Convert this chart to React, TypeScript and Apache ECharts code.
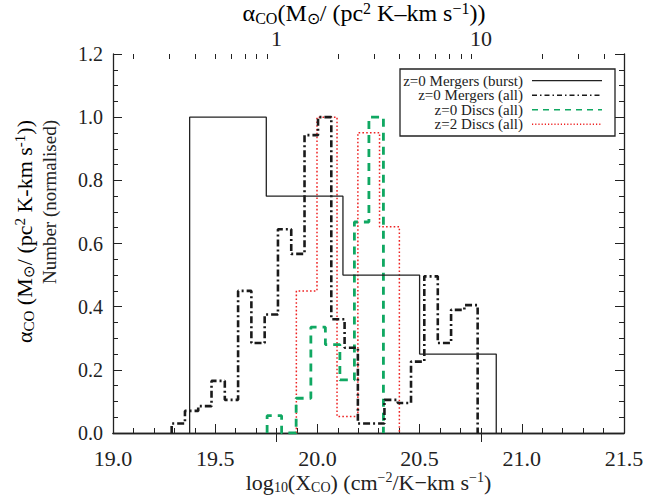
import React, { useEffect, useRef } from "react";
import * as echarts from "echarts";

// ---- data ----
const seriesNames = [
  "z=0 Mergers (burst)",
  "z=0 Mergers (all)",
  "z=0 Discs (all)",
  "z=2 Discs (all)",
];

const burstEdges = [19.375, 19.75, 20.125, 20.5, 20.875];
const burstValues = [1.0, 0.75, 0.5, 0.25];

const mergersAllEdges = [
  19.287, 19.352, 19.417, 19.482, 19.547, 19.612, 19.677, 19.742, 19.807,
  19.872, 19.937, 20.003, 20.068, 20.133, 20.198, 20.263, 20.328, 20.393,
  20.458, 20.523, 20.589, 20.654, 20.719, 20.784,
];
const mergersAllValues = [
  0.03, 0.07, 0.085, 0.165, 0.105, 0.45, 0.285, 0.375, 0.645, 0.567, 0.943,
  1.0, 0.36, 0.27, 0.03, 0.03, 0.105, 0.095, 0.226, 0.496, 0.285, 0.39, 0.405,
];

const discsZ0Edges = [19.754, 19.825, 19.896, 19.968, 20.039, 20.11, 20.181, 20.252, 20.323];
const discsZ0Values = [0.055, 0.0, 0.11, 0.335, 0.28, 0.168, 0.668, 1.0];

const discsZ2Edges = [19.897, 19.998, 20.096, 20.198, 20.304, 20.401];
const discsZ2Values = [0.45, 1.0, 0.052, 0.951, 0.653];

// top axis: alpha_CO values (log X_CO = alphaZero + log10(alpha))
const alphaZero = 19.8;
const alphaMajor = [1, 10];
const alphaMinor = [0.2, 0.3, 0.4, 0.5, 0.6, 0.7, 0.8, 0.9, 2, 3, 4, 5, 6, 7, 8, 9, 20, 30, 40, 50];

const FONT = "Liberation Serif";
const INK = "#222";

function stepPoints(edges: number[], values: number[]) {
  const pts: number[][] = [[edges[0], 0]];
  values.forEach((v, i) => {
    pts.push([edges[i], v]);
    pts.push([edges[i + 1], v]);
  });
  pts.push([edges[edges.length - 1], 0]);
  return pts;
}

const styles = [
  { color: INK, width: 1.3, type: "solid" as any },
  { color: "#1a1a1a", width: 2.6, type: [7, 3, 2, 3] as any },
  { color: "#10a862", width: 2.8, type: [8, 6] as any },
  { color: "#ee2222", width: 1.5, type: [1.6, 2.2] as any },
];

function richBase(size: number, subRatio = 0.64) {
  const s = Math.round(size * subRatio);
  return {
    m: { fontFamily: FONT, fontSize: size, color: INK, lineHeight: size + 2, verticalAlign: "middle" },
    s: { fontFamily: FONT, fontSize: s, color: INK, lineHeight: s, verticalAlign: "bottom" },
    p: { fontFamily: FONT, fontSize: s, color: INK, lineHeight: s, verticalAlign: "top" },
  } as any;
}

export default function App() {
  const ref = useRef<HTMLDivElement>(null);
  useEffect(() => {
    if (!ref.current) return;
    const chart = echarts.init(ref.current, undefined, { renderer: "svg" });
    const toAlphaX = (a: number) => alphaZero + Math.log10(a);

    const datasets = [
      stepPoints(burstEdges, burstValues),
      stepPoints(mergersAllEdges, mergersAllValues),
      stepPoints(discsZ0Edges, discsZ0Values),
      stepPoints(discsZ2Edges, discsZ2Values),
    ];

    const legendTop = 80.7;
    const legendStep = 14.5;
    const legendGraphics: any[] = [
      {
        type: "rect",
        shape: { x: 400, y: 69, width: 215, height: 67 },
        style: { fill: "#fff", stroke: INK, lineWidth: 1.3 },
        z: 100,
      },
    ];
    seriesNames.forEach((name, i) => {
      const y = legendTop + i * legendStep;
      legendGraphics.push({
        type: "text",
        x: 523,
        y,
        z: 101,
        style: {
          text: name,
          font: `15px ${FONT}`,
          lineHeight: 14,
          fill: INK,
          align: "right",
          verticalAlign: "middle",
        },
      });
      legendGraphics.push({
        type: "line",
        z: 101,
        shape: { x1: 532, y1: y, x2: 602, y2: y },
        style: {
          stroke: styles[i].color,
          lineWidth: Math.min(styles[i].width, 1.4),
          lineDash: styles[i].type === "solid" ? null : (i === 1 ? [5, 3, 1.5, 3] : i === 2 ? [6, 5] : [1.2, 2]),
        },
      });
    });

    const option: any = {
      animation: false,
      grid: { left: 113, right: 25, top: 54, bottom: 62, containLabel: false, outerBoundsMode: "none" },
      xAxis: [
        {
          type: "value",
          min: 19,
          max: 21.5,
          interval: 0.5,
          position: "bottom",
          axisLine: { lineStyle: { color: INK, width: 1.3 } },
          axisTick: { inside: true, length: 9, lineStyle: { color: INK } },
          minorTick: { show: true, splitNumber: 5, length: 5, lineStyle: { color: INK } },
          splitLine: { show: false },
          axisLabel: {
            fontFamily: FONT,
            fontSize: 22,
            color: INK,
            margin: 14,
            formatter: (v: number) => v.toFixed(1),
          },
          name: "{m|log}{s|10}{m|(X}{s|CO}{m|) (cm}{p|−2}{m|/K−km s}{p|−1}{m|)}",
          nameLocation: "middle",
          nameGap: 37,
          nameMoveOverlap: false,
          nameTextStyle: { rich: richBase(22) },
        },
        {
          type: "value",
          min: 19,
          max: 21.5,
          position: "top",
          offset: 0,
          axisLine: { show: true, lineStyle: { color: INK, width: 1.3 } },
          axisTick: {
            show: true,
            inside: true,
            length: 9,
            customValues: alphaMajor.map(toAlphaX),
            lineStyle: { color: INK },
          },
          axisLabel: {
            show: true,
            customValues: alphaMajor.map(toAlphaX),
            fontFamily: FONT,
            fontSize: 22,
            color: INK,
            margin: 5,
            formatter: (v: number) => String(Math.round(Math.pow(10, v - alphaZero))),
          },
          splitLine: { show: false },
        },
        {
          type: "value",
          min: 19,
          max: 21.5,
          position: "top",
          offset: 0,
          axisLine: { show: false },
          axisTick: {
            show: true,
            inside: true,
            length: 5,
            customValues: alphaMinor.map(toAlphaX),
            lineStyle: { color: INK },
          },
          axisLabel: { show: false },
          splitLine: { show: false },
        },
      ],
      yAxis: [
        {
          type: "value",
          min: 0,
          max: 1.2,
          interval: 0.2,
          position: "left",
          axisLine: { show: true, lineStyle: { color: INK, width: 1.3 } },
          axisTick: { show: true, inside: true, length: 9, lineStyle: { color: INK } },
          minorTick: { show: true, splitNumber: 4, length: 5, lineStyle: { color: INK } },
          splitLine: { show: false },
          axisLabel: {
            fontFamily: FONT,
            fontSize: 20,
            color: INK,
            margin: 10,
            formatter: (v: number) => v.toFixed(1),
          },
        },
        {
          type: "value",
          min: 0,
          max: 1.2,
          interval: 0.2,
          position: "right",
          axisLine: { show: true, lineStyle: { color: INK, width: 1.3 } },
          axisTick: { show: true, inside: true, length: 9, lineStyle: { color: INK } },
          minorTick: { show: true, splitNumber: 4, length: 5, lineStyle: { color: INK } },
          splitLine: { show: false },
          axisLabel: { show: false },
        },
      ],
      series: datasets.map((pts, i) => ({
        name: seriesNames[i],
        type: "line",
        xAxisIndex: 0,
        yAxisIndex: 0,
        data: pts,
        symbol: "none",
        clip: true,
        lineStyle: styles[i],
        z: 10 - i,
      })),
      graphic: [
        {
          type: "text",
          x: 364,
          y: 13,
          style: {
            text: "{m|α}{s|CO}{m|(M}{s|⊙}{m|/ (pc}{p|2}{m| K–km s}{p|−1}{m|))}",
            rich: richBase(24, 0.66),
            align: "center",
            verticalAlign: "middle",
          },
        },
        {
          type: "text",
          x: 24,
          y: 120,
          rotation: Math.PI / 2,
          style: {
            text: "{m|α}{s|CO}{m| (M}{s|⊙}{m|/ (pc}{p|2}{m| K-km s}{p|-1}{m|))}",
            rich: richBase(22, 0.66),
            align: "right",
            verticalAlign: "middle",
          },
        },
        {
          type: "text",
          x: 49,
          y: 120,
          rotation: Math.PI / 2,
          style: {
            text: "Number (normalised)",
            font: `19px ${FONT}`,
            fill: INK,
            align: "right",
            verticalAlign: "middle",
          },
        },
        ...legendGraphics,
      ],
    };
    chart.setOption(option);
    return () => chart.dispose();
  }, []);
  return (
    <div
      ref={ref}
      style={{ position: "fixed", left: 0, top: 0, width: 649, height: 495, background: "#fff" }}
    />
  );
}
